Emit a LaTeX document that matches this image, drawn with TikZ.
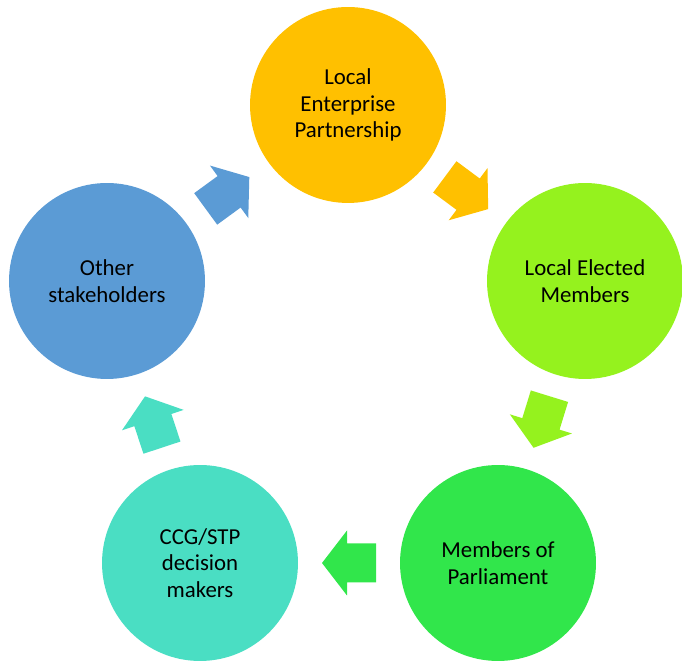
\documentclass[tikz,border=0pt]{standalone}
\usepackage{fontspec}
\setmainfont{Carlito}
\usetikzlibrary{calc}

\definecolor{lepcol}{HTML}{FFC000}
\definecolor{lemcol}{HTML}{95F21E}
\definecolor{mpcol}{HTML}{31E64B}
\definecolor{ccgcol}{HTML}{4ADEC3}
\definecolor{othcol}{HTML}{5B9BD5}

\tikzset{
  pics/cycarrow/.style={code={
    \fill[#1] (-27,-19.5) -- (2,-19.5) -- (2,-32.5) -- (27,0)
      -- (2,32.5) -- (2,19.5) -- (-27,19.5) -- cycle;
  }}
}

% block arrow half way between two circles, pointing from #1 to #2
\newcommand\linkarrow[3]{%
  \path let \p1=(#1), \p2=(#2), \n1={atan2(\y2-\y1,\x2-\x1)} in
    ($(#1)!0.5!(#2)$) pic[rotate=\n1] {cycarrow=#3};}

\begin{document}
\begin{tikzpicture}[
  x=0.02cm, y=0.02cm,
  stage/.style={circle, inner sep=0pt, minimum size=3.92cm, align=center,
    font=\fontsize{13}{15}\selectfont, text=black}
]
\useasboundingbox (0,0) rectangle (682,661);

% Nodes
\node[stage, fill=lepcol] (lep) at (348,556) {Local\\Enterprise\\Partnership};
\node[stage, fill=lemcol] (lem) at (585,380) {Local Elected\\Members};
\node[stage, fill=mpcol]  (mp)  at (498,98)  {Members of\\Parliament};
\node[stage, fill=ccgcol] (ccg) at (200,98)  {CCG/STP\\decision\\makers};
\node[stage, fill=othcol] (oth) at (107,380) {Other\\stakeholders};

% Arrows
\linkarrow{lep}{lem}{lepcol}
\linkarrow{lem}{mp}{lemcol}
\linkarrow{mp}{ccg}{mpcol}
\linkarrow{ccg}{oth}{ccgcol}
\linkarrow{oth}{lep}{othcol}

\end{tikzpicture}
\end{document}
